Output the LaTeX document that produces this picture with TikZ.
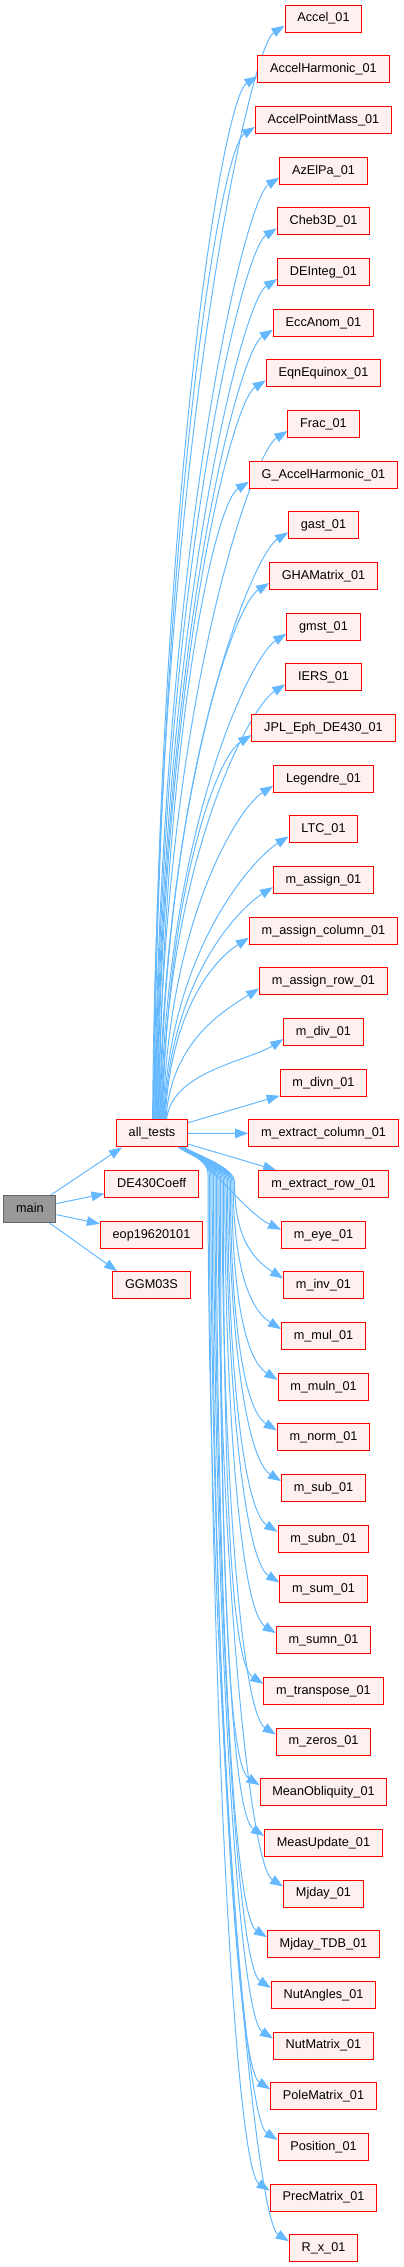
\documentclass[tikz,border=0pt]{standalone}
\usepackage{fontspec}
\setmainfont{Liberation Sans}
\usetikzlibrary{arrows.meta,calc}
\definecolor{edgeblue}{HTML}{63B8FF}
\definecolor{boxfill}{HTML}{FFF0F0}
\definecolor{boxred}{HTML}{FF0000}
\definecolor{mainfill}{HTML}{999999}
\definecolor{maindraw}{HTML}{666666}
\pgfdeclarelayer{edgelayer}
\pgfsetlayers{edgelayer,main}
\catcode`\_=12
\begin{document}
\begin{tikzpicture}[x=1pt,y=-1pt,
  box/.style={draw=boxred,fill=boxfill,line width=1pt,minimum height=27pt,inner xsep=12.3pt,inner ysep=0pt,
    font=\fontsize{12.7}{15}\selectfont,text height=9.2pt,text depth=2.6pt},
  mainbox/.style={box,draw=maindraw,fill=mainfill},
  edge/.style={draw=edgeblue,line width=1pt,-{Triangle[length=13pt,width=9.5pt]}}]
\useasboundingbox (0,0) rectangle (404,2267);

\node[mainbox] (main) at (29.9,1209) {main};
\node[box] (all_tests) at (152,1133.4) {all_tests};
\node[box] (DE430Coeff) at (151.7,1184) {DE430Coeff};
\node[box] (eop19620101) at (151.5,1234.7) {eop19620101};
\node[box] (GGM03S) at (151.5,1285.2) {GGM03S};

\foreach \name [count=\i] in {Accel_01,AccelHarmonic_01,AccelPointMass_01,AzElPa_01,Cheb3D_01,DEInteg_01,EccAnom_01,EqnEquinox_01,Frac_01,G_AccelHarmonic_01,gast_01,GHAMatrix_01,gmst_01,IERS_01,JPL_Eph_DE430_01,Legendre_01,LTC_01,m_assign_01,m_assign_column_01,m_assign_row_01,m_div_01,m_divn_01,m_extract_column_01,m_extract_row_01,m_eye_01,m_inv_01,m_mul_01,m_muln_01,m_norm_01,m_sub_01,m_subn_01,m_sum_01,m_sumn_01,m_transpose_01,m_zeros_01,MeanObliquity_01,MeasUpdate_01,Mjday_01,Mjday_TDB_01,NutAngles_01,NutMatrix_01,PoleMatrix_01,Position_01,PrecMatrix_01,R_x_01}
{
  \node[box] (\name) at (323.5,{18.7+(\i-1)*50.67}) {\name};
}

\begin{pgfonlayer}{edgelayer}
\draw[edge] (main) -- ($(all_tests.south west)+(6,0)$);
\draw[edge] (main) -- (DE430Coeff);
\draw[edge] (main) -- (eop19620101);
\draw[edge] (main) -- ($(GGM03S.north west)+(5,0)$);

\foreach \name [count=\i] in {Accel_01,AccelHarmonic_01,AccelPointMass_01,AzElPa_01,Cheb3D_01,DEInteg_01,EccAnom_01,EqnEquinox_01,Frac_01,G_AccelHarmonic_01,gast_01,GHAMatrix_01,gmst_01,IERS_01,JPL_Eph_DE430_01,Legendre_01,LTC_01,m_assign_01,m_assign_column_01,m_assign_row_01,m_div_01,m_divn_01,m_extract_column_01,m_extract_row_01,m_eye_01,m_inv_01,m_mul_01,m_muln_01,m_norm_01,m_sub_01,m_subn_01,m_sum_01,m_sumn_01,m_transpose_01,m_zeros_01,MeanObliquity_01,MeasUpdate_01,Mjday_01,Mjday_TDB_01,NutAngles_01,NutMatrix_01,PoleMatrix_01,Position_01,PrecMatrix_01,R_x_01}
{
  \ifnum\i<22
    \pgfmathsetmacro\d{23-\i}
    \pgfmathsetmacro\ty{18.7+(\i-1)*50.67+7}
    \pgfmathsetmacro\xo{16-0.7*\d}
    \pgfmathsetmacro\sx{152+\xo}
    \pgfmathsetmacro\cy{1120-0.6*(1120-\ty)}
    \draw[edge] ($(all_tests.north)+(\xo,0)$) .. controls ({\sx+5},\cy) and ($(\name.west)+(-35,29)$) .. ($(\name.west)+(0,7)$);
  \else
    \ifnum\i<25
      \draw[edge] (all_tests) -- (\name);
    \else
      \ifnum\i=25
        \draw[edge] ($(all_tests.south east)+(-4,0)$) .. controls +(25,15) and ($(\name.west)+(-35,-22)$) .. ($(\name.west)+(0,-5)$);
      \else
        \pgfmathsetmacro\d{\i-23}
        \pgfmathsetmacro\ty{18.7+(\i-1)*50.67-7}
        \pgfmathsetmacro\px{208+1.4*(22-\d)}
        \pgfmathsetmacro\py{1175+0.4*(22-\d)}
        \pgfmathsetmacro\cy{\py+0.5*(\ty-\py)}
        \pgfmathsetmacro\xo{-3-0.3*\d}
        \draw[edge] ($(all_tests.south east)+(\xo,0)$) .. controls +(12,8) and (\px,{\py-16}) .. (\px,\py)
          .. controls (\px,\cy) and ($(\name.west)+(-35,-29)$) .. ($(\name.west)+(0,-7)$);
      \fi
    \fi
  \fi
}
\end{pgfonlayer}
\end{tikzpicture}
\end{document}
